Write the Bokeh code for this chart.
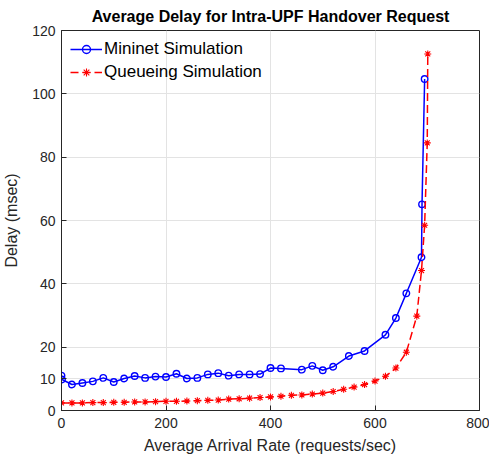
from bokeh.plotting import figure
from bokeh.models import Range1d, FixedTicker, Legend, LegendItem
from bokeh.embed import file_html
from bokeh.resources import INLINE

# Mininet simulation (measured)
mininet_rate = [0, 1, 20, 40, 60, 80, 100, 120, 140, 160, 180, 200, 220, 240, 260, 280,
                300, 320, 340, 360, 380, 400, 420, 460, 480, 500, 520, 550, 580, 620,
                640, 660, 689, 690, 695]
mininet_delay = [11.0, 9.8, 8.2, 8.7, 9.2, 10.3, 9.0, 10.1, 10.9, 10.3, 10.7, 10.6, 11.6,
                 10.1, 10.3, 11.4, 11.8, 11.0, 11.4, 11.4, 11.5, 13.4, 13.3, 12.9, 14.1,
                 12.7, 13.8, 17.2, 18.8, 23.9, 29.2, 37.0, 48.4, 65.1, 104.7]

# Queueing simulation
queue_rate = [0, 20, 40, 60, 80, 100, 120, 140, 160, 180, 200, 220, 240, 260, 280, 300,
              320, 340, 360, 380, 400, 420, 440, 460, 480, 500, 520, 540, 560, 580, 600,
              620, 640, 660, 680, 689, 695, 700, 701]
queue_delay = [2.4, 2.4, 2.4, 2.5, 2.5, 2.6, 2.6, 2.7, 2.7, 2.8, 2.9, 2.9, 3.0, 3.1, 3.2,
               3.3, 3.6, 3.7, 3.9, 4.1, 4.3, 4.5, 4.8, 4.9, 5.2, 5.5, 6.0, 6.7, 7.4, 8.2,
               9.3, 10.8, 13.4, 18.4, 29.8, 44.2, 58.5, 84.5, 112.6]

x_ticks = [0, 200, 400, 600, 800]
y_ticks = [0, 10, 20, 40, 60, 80, 100, 120]

FONT = "Liberation Sans"
DARK = "#262626"

p = figure(frame_width=418, frame_height=380,
           x_range=Range1d(0, 800), y_range=Range1d(0, 120),
           output_backend="svg", toolbar_location=None,
           min_border_left=5, min_border_right=10, min_border_top=5, min_border_bottom=5)

p.title.text = "Average Delay for Intra-UPF Handover Request"
p.title.align = "center"
p.title.text_font = FONT
p.title.text_font_size = "16px"
p.title.text_font_style = "bold"
p.title.text_color = "black"
p.title.standoff = 11

p.outline_line_color = DARK
p.outline_line_width = 1
p.outline_line_alpha = 1

for ax in (p.xaxis[0], p.yaxis[0]):
    ax.axis_line_color = DARK
    ax.major_tick_line_color = DARK
    ax.major_tick_in = 5
    ax.major_tick_out = 0
    ax.minor_tick_line_color = None
    ax.major_label_text_font = FONT
    ax.major_label_text_font_size = "14px"
    ax.major_label_text_color = DARK
    ax.axis_label_text_font = FONT
    ax.axis_label_text_font_size = "16px"
    ax.axis_label_text_font_style = "normal"
    ax.axis_label_text_color = DARK

p.xaxis.ticker = FixedTicker(ticks=x_ticks)
p.yaxis.ticker = FixedTicker(ticks=y_ticks)
p.xaxis.axis_label = "Average Arrival Rate (requests/sec)"
p.yaxis.axis_label = "Delay (msec)"
p.xaxis.major_label_standoff = 7
p.yaxis.major_label_standoff = 6
p.xaxis.axis_label_standoff = 6
p.yaxis.axis_label_standoff = 9

p.xgrid.ticker = FixedTicker(ticks=x_ticks)
p.ygrid.ticker = FixedTicker(ticks=y_ticks)
p.grid.grid_line_color = "#e3e3e3"
p.grid.grid_line_width = 1

BLUE = "#0000ff"
RED = "#ff0000"

l1 = p.line(mininet_rate, mininet_delay, line_color=BLUE, line_width=1.5)
s1 = p.scatter(mininet_rate, mininet_delay, marker="circle", size=6.5,
               line_color=BLUE, fill_color=None, line_width=1.4)
l2 = p.line(queue_rate, queue_delay, line_color=RED, line_width=1.5, line_dash="8 4")
s2 = p.scatter(queue_rate, queue_delay, marker="asterisk", size=7,
               line_color=RED, line_width=1.1)

legend = Legend(items=[
    LegendItem(label="Mininet Simulation", renderers=[l1, s1]),
    LegendItem(label="Queueing Simulation", renderers=[l2, s2]),
], location="top_left")
legend.label_text_font = FONT
legend.label_text_font_size = "17px"
legend.label_text_color = "black"
legend.border_line_color = None
legend.background_fill_alpha = 0
legend.glyph_width = 32
legend.glyph_height = 20
legend.label_height = 20
legend.label_standoff = 2
legend.spacing = 3
legend.padding = 3
legend.margin = 9
p.add_layout(legend)

open("out.html", "w").write(file_html(p, INLINE))
